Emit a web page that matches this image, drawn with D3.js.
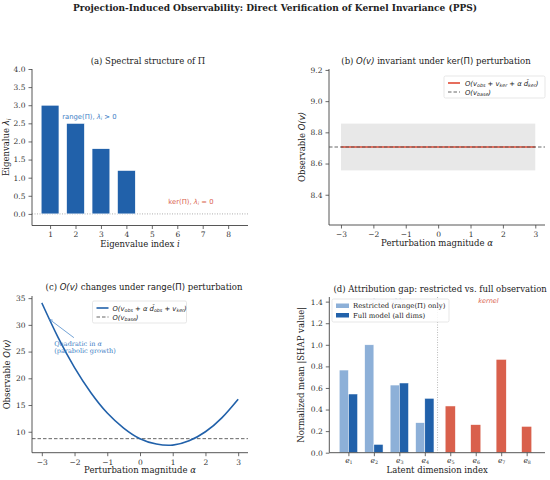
<!DOCTYPE html>
<html>
<head>
<meta charset="utf-8">
<script src="https://cdn.jsdelivr.net/npm/d3@7"></script>
<style>
  body { margin: 0; background: #fff; }
  svg { display: block; }
  text { font-family: 'DejaVu Serif', serif; }
  .tick text { font-size: 7.5px; }
  .math { font-family: 'DejaVu Sans', sans-serif; font-style: italic; }
</style>
</head>
<body>
<svg id="chart"></svg>
<script>
// panel (a) eigenvalues
const eigIndex = [1, 2, 3, 4, 5, 6, 7, 8];
const eigValues = [3.0, 2.5, 1.8, 1.2, 0, 0, 0, 0];

// panel (b) kernel perturbation
const alphaKer = [-3, -2, -1, 0, 1, 2, 3];
const obsKer = [8.706, 8.706, 8.706, 8.706, 8.706, 8.706, 8.706];
const obsBase = 8.706;
const bandLow = 8.556;
const bandHigh = 8.856;

// panel (c) range perturbation
const alphaRange = [-3, -2.5, -2, -1.5, -1, -0.5, 0, 0.5, 1, 1.5, 2, 2.5, 3];
const obsRange = [34.1, 27.6, 22.0, 17.3, 13.5, 10.7, 8.7, 7.7, 7.5, 8.3, 10.0, 12.6, 16.1];

// panel (d) attribution
const dimLabels = ['1', '2', '3', '4', '5', '6', '7', '8'];
const restrictedShap = [0.766, 1.0, 0.627, 0.278];
const fullShap = [0.544, 0.077, 0.646, 0.504];
const kernelShap = [0.433, 0.26, 0.865, 0.244];

const W = 550, H = 480;
const blue = '#2161aa', lightBlue = '#8db0d8', red = '#d9604c', noteBlue = '#3a7cc4';
const axisColor = '#444', textColor = '#222';

var svg = d3.select('#chart').attr('width', W).attr('height', H);

svg.append('text')
  .attr('x', W / 2).attr('y', 11)
  .attr('text-anchor', 'middle')
  .style('font-size', '9px').style('font-weight', 'bold').style('fill', textColor)
  .text('Projection-Induced Observability: Direct Verification of Kernel Invariance (PPS)');

// draw bottom/left spines + ticks
function drawAxes(g, x, y, box, xTicks, yTicks, xFmt, yFmt) {
  var xa = d3.axisBottom(x).tickValues(xTicks).tickSizeOuter(0).tickSize(3.5).tickPadding(3);
  if (xFmt) xa.tickFormat(xFmt);
  var ya = d3.axisLeft(y).tickValues(yTicks).tickSizeOuter(0).tickSize(3.5).tickPadding(3);
  if (yFmt) ya.tickFormat(yFmt);
  var gx = g.append('g').attr('transform', 'translate(0,' + box.bottom + ')').call(xa);
  var gy = g.append('g').attr('transform', 'translate(' + box.left + ',0)').call(ya);
  [gx, gy].forEach(function (a) {
    a.select('.domain').remove();
    a.selectAll('.tick line').attr('stroke', axisColor).attr('stroke-width', 0.8);
    a.selectAll('.tick text').attr('font-family', 'DejaVu Serif').style('fill', '#333');
  });
  g.append('line').attr('x1', box.left).attr('x2', box.right)
    .attr('y1', box.bottom).attr('y2', box.bottom)
    .attr('stroke', axisColor).attr('stroke-width', 0.9);
  g.append('line').attr('x1', box.left).attr('x2', box.left)
    .attr('y1', box.top).attr('y2', box.bottom)
    .attr('stroke', axisColor).attr('stroke-width', 0.9);
  return { gx: gx, gy: gy };
}

function minusFmt(d) { return d < 0 ? '\u2212' + Math.abs(d) : String(d); }

function label(g, x, y, size) {
  return g.append('text').attr('x', x).attr('y', y)
    .attr('text-anchor', 'middle').style('font-size', size || '8.5px').style('fill', textColor);
}

function sub(t, s) {
  t.append('tspan').attr('baseline-shift', '-25%').style('font-size', '70%').text(s);
}

// ---------------- (a) ----------------
(function () {
  var box = { left: 32, right: 248, top: 69, bottom: 225.5 };
  var x = d3.scaleLinear().domain([0.29, 8.78]).range([box.left, box.right]);
  var y = d3.scaleLinear().domain([-0.32, 4.0]).range([box.bottom, box.top]);
  var g = svg.append('g');

  g.append('line').attr('x1', box.left).attr('x2', box.right)
    .attr('y1', y(0)).attr('y2', y(0))
    .attr('stroke', '#999').attr('stroke-width', 0.8).attr('stroke-dasharray', '1,1.5');

  g.selectAll('rect.bar').data(eigIndex).enter().append('rect')
    .attr('class', 'bar')
    .attr('x', function (d) { return x(d - 0.35); })
    .attr('width', function (d) { return x(d + 0.35) - x(d - 0.35); })
    .attr('y', function (d, i) { return y(eigValues[i]); })
    .attr('height', function (d, i) { return y(0) - y(eigValues[i]); })
    .attr('fill', blue).attr('stroke', '#fff').attr('stroke-width', 0.6);

  drawAxes(g, x, y, box, eigIndex, d3.range(0, 4.01, 0.5), null, d3.format('.1f'));

  var t1 = g.append('text').attr('x', x(1.48)).attr('y', y(2.62)).style('fill', noteBlue)
    .style('font-size', '6.8px').style('font-family', 'DejaVu Sans');
  t1.append('tspan').text('range(\u03a0),  ');
  t1.append('tspan').style('font-style', 'italic').text('\u03bb');
  t1.append('tspan').attr('baseline-shift', '-25%').style('font-size', '70%').style('font-style', 'italic').text('i');
  t1.append('tspan').text(' > 0');

  var t2 = g.append('text').attr('x', x(5.65)).attr('y', y(0.27)).style('fill', red)
    .style('font-size', '6.8px').style('font-family', 'DejaVu Sans');
  t2.append('tspan').text('ker(\u03a0),  ');
  t2.append('tspan').style('font-style', 'italic').text('\u03bb');
  t2.append('tspan').attr('baseline-shift', '-25%').style('font-size', '70%').style('font-style', 'italic').text('i');
  t2.append('tspan').text(' = 0');

  label(g, (box.left + box.right) / 2 + 8, 64).text('(a) Spectral structure of \u03a0');

  var xl = label(g, (box.left + box.right) / 2, 247);
  xl.append('tspan').text('Eigenvalue index ');
  xl.append('tspan').style('font-style', 'italic').text('i');

  var yl = label(g, 0, 0).attr('transform', 'translate(9,' + ((box.top + box.bottom) / 2) + ') rotate(-90)');
  yl.append('tspan').text('Eigenvalue ');
  yl.append('tspan').attr('class', 'math').text('\u03bb');
  yl.append('tspan').attr('class', 'math').attr('baseline-shift', '-25%').style('font-size', '70%').text('i');
})();

// ---------------- (b) ----------------
(function () {
  var box = { left: 329, right: 545, top: 69, bottom: 225 };
  var x = d3.scaleLinear().domain([-3.37, 3.3]).range([box.left, box.right]);
  var y = d3.scaleLinear().domain([8.206, 9.206]).range([box.bottom, box.top]);
  var g = svg.append('g');

  g.append('rect').attr('x', x(-3)).attr('width', x(3) - x(-3))
    .attr('y', y(bandHigh)).attr('height', y(bandLow) - y(bandHigh))
    .attr('fill', '#e8e8e8');

  var line = d3.line().x(function (d) { return x(d); }).y(function (d, i) { return y(obsKer[i]); });
  g.append('path').datum(alphaKer).attr('d', line)
    .attr('fill', 'none').attr('stroke', '#e04a35').attr('stroke-width', 1.6);

  g.append('line').attr('x1', box.left).attr('x2', box.right)
    .attr('y1', y(obsBase)).attr('y2', y(obsBase))
    .attr('stroke', '#555').attr('stroke-width', 0.9).attr('stroke-dasharray', '3.5,2');

  drawAxes(g, x, y, box, d3.range(-3, 3.01, 1), [8.4, 8.6, 8.8, 9.0, 9.2], minusFmt, d3.format('.1f'));

  // legend
  var lg = g.append('g').attr('transform', 'translate(444,76)');
  lg.append('rect').attr('width', 101).attr('height', 22).attr('rx', 1.5)
    .attr('fill', '#fff').attr('fill-opacity', 0.85).attr('stroke', '#ddd').attr('stroke-width', 0.7);
  lg.append('line').attr('x1', 4).attr('x2', 16).attr('y1', 7).attr('y2', 7)
    .attr('stroke', '#e04a35').attr('stroke-width', 1.6);
  lg.append('line').attr('x1', 4).attr('x2', 16).attr('y1', 16).attr('y2', 16)
    .attr('stroke', '#555').attr('stroke-width', 0.9).attr('stroke-dasharray', '3.5,2');
  var l1 = lg.append('text').attr('x', 21).attr('y', 9.5).style('font-size', '6.8px').style('fill', textColor).attr('class', 'math');
  l1.append('tspan').text('O(v');
  sub(l1, 'obs');
  l1.append('tspan').text(' + v');
  sub(l1, 'ker');
  l1.append('tspan').text(' + \u03b1 d\u0302');
  sub(l1, 'ker');
  l1.append('tspan').text(')');
  var l2 = lg.append('text').attr('x', 21).attr('y', 18.5).style('font-size', '6.8px').style('fill', textColor).attr('class', 'math');
  l2.append('tspan').text('O(v');
  sub(l2, 'base');
  l2.append('tspan').text(')');

  var tt = label(g, (box.left + box.right) / 2 - 1, 64);
  tt.append('tspan').text('(b) ');
  tt.append('tspan').attr('class', 'math').text('O(v)');
  tt.append('tspan').text(' invariant under ');
  tt.append('tspan').style('font-family', 'DejaVu Sans').text('ker(\u03a0)');
  tt.append('tspan').text(' perturbation');

  var xl = label(g, (box.left + box.right) / 2, 246);
  xl.append('tspan').text('Perturbation magnitude ');
  xl.append('tspan').style('font-style', 'italic').text('\u03b1');

  var yl = label(g, 0, 0).attr('transform', 'translate(305,' + ((box.top + box.bottom) / 2) + ') rotate(-90)');
  yl.append('tspan').text('Observable ');
  yl.append('tspan').attr('class', 'math').text('O(v)');
})();

// ---------------- (c) ----------------
(function () {
  var box = { left: 32, right: 248, top: 296, bottom: 452.7 };
  var x = d3.scaleLinear().domain([-3.3, 3.3]).range([box.left, box.right]);
  var y = d3.scaleLinear().domain([6.08, 35.4]).range([box.bottom, box.top]);
  var g = svg.append('g');

  g.append('line').attr('x1', box.left).attr('x2', box.right)
    .attr('y1', y(obsBase)).attr('y2', y(obsBase))
    .attr('stroke', '#555').attr('stroke-width', 0.9).attr('stroke-dasharray', '3.5,2');

  var line = d3.line().curve(d3.curveNatural)
    .x(function (d) { return x(d); }).y(function (d, i) { return y(obsRange[i]); });
  g.append('path').datum(alphaRange).attr('d', line)
    .attr('fill', 'none').attr('stroke', blue).attr('stroke-width', 1.6);

  drawAxes(g, x, y, box, d3.range(-3, 3.01, 1), [10, 15, 20, 25, 30, 35], minusFmt, null);

  // annotation
  var defs = svg.append('defs');
  defs.append('marker').attr('id', 'arrowC').attr('viewBox', '0 -5 10 10')
    .attr('refX', 10).attr('refY', 0).attr('markerWidth', 6).attr('markerHeight', 6)
    .attr('orient', 'auto')
    .append('path').attr('d', 'M0,-3.5L10,0L0,3.5').attr('fill', 'none')
    .attr('stroke', noteBlue).attr('stroke-width', 1.2);
  g.append('line').attr('x1', x(-2.02)).attr('y1', y(27.6))
    .attr('x2', x(-2.78)).attr('y2', y(31.1))
    .attr('stroke', noteBlue).attr('stroke-width', 0.7).attr('marker-end', 'url(#arrowC)');
  var an = g.append('text').attr('x', x(-2.62)).attr('y', y(26.1))
    .style('fill', noteBlue).style('font-size', '6.5px');
  an.append('tspan').text('Quadratic in ');
  an.append('tspan').style('font-style', 'italic').text('\u03b1');
  g.append('text').attr('x', x(-2.62)).attr('y', y(24.7))
    .style('fill', noteBlue).style('font-size', '6.5px').text('(parabolic growth)');

  // legend
  var lg = g.append('g').attr('transform', 'translate(92.5,301)');
  lg.append('rect').attr('width', 94).attr('height', 22).attr('rx', 1.5)
    .attr('fill', '#fff').attr('fill-opacity', 0.85).attr('stroke', '#ddd').attr('stroke-width', 0.7);
  lg.append('line').attr('x1', 4).attr('x2', 16).attr('y1', 7).attr('y2', 7)
    .attr('stroke', blue).attr('stroke-width', 1.6);
  lg.append('line').attr('x1', 4).attr('x2', 16).attr('y1', 16).attr('y2', 16)
    .attr('stroke', '#555').attr('stroke-width', 0.9).attr('stroke-dasharray', '3.5,2');
  var l1 = lg.append('text').attr('x', 20).attr('y', 9.5).style('font-size', '6.8px').style('fill', textColor).attr('class', 'math');
  l1.append('tspan').text('O(v');
  sub(l1, 'obs');
  l1.append('tspan').text(' + \u03b1 d\u0302');
  sub(l1, 'obs');
  l1.append('tspan').text(' + v');
  sub(l1, 'ker');
  l1.append('tspan').text(')');
  var l2 = lg.append('text').attr('x', 20).attr('y', 18.5).style('font-size', '6.8px').style('fill', textColor).attr('class', 'math');
  l2.append('tspan').text('O(v');
  sub(l2, 'base');
  l2.append('tspan').text(')');

  var tt = label(g, (box.left + box.right) / 2 + 4, 290);
  tt.append('tspan').text('(c) ');
  tt.append('tspan').attr('class', 'math').text('O(v)');
  tt.append('tspan').text(' changes under ');
  tt.append('tspan').style('font-family', 'DejaVu Sans').text('range(\u03a0)');
  tt.append('tspan').text(' perturbation');

  var xl = label(g, (box.left + box.right) / 2, 473);
  xl.append('tspan').text('Perturbation magnitude ');
  xl.append('tspan').style('font-style', 'italic').text('\u03b1');

  var yl = label(g, 0, 0).attr('transform', 'translate(10,' + ((box.top + box.bottom) / 2) + ') rotate(-90)');
  yl.append('tspan').text('Observable ');
  yl.append('tspan').attr('class', 'math').text('O(v)');
})();

// ---------------- (d) ----------------
(function () {
  var box = { left: 329.3, right: 545, top: 297, bottom: 452.7 };
  var x = d3.scaleLinear().domain([-0.75, 7.72]).range([box.left, box.right]);
  var y = d3.scaleLinear().domain([0, 1.443]).range([box.bottom, box.top]);
  var g = svg.append('g');
  var bw = 0.36;
  var idx = d3.range(dimLabels.length);

  g.append('line').attr('x1', x(3.5)).attr('x2', x(3.5))
    .attr('y1', box.top).attr('y2', box.bottom)
    .attr('stroke', '#aaa').attr('stroke-width', 0.8).attr('stroke-dasharray', '1,1.5');

  g.append('text').attr('x', x(1.5)).attr('y', y(1.385)).attr('text-anchor', 'middle')
    .style('fill', '#a9c4e4').style('font-size', '6.5px').style('font-style', 'italic')
    .style('font-family', 'DejaVu Sans').text('observable');
  g.append('text').attr('x', x(5.5)).attr('y', y(1.385)).attr('text-anchor', 'middle')
    .style('fill', red).style('font-size', '6.5px').style('font-style', 'italic')
    .style('font-family', 'DejaVu Sans').text('kernel');

  g.selectAll('rect.restr').data(restrictedShap).enter().append('rect')
    .attr('class', 'restr')
    .attr('x', function (d, i) { return x(i - bw); })
    .attr('width', x(bw) - x(0))
    .attr('y', function (d) { return y(d); })
    .attr('height', function (d) { return y(0) - y(d); })
    .attr('fill', lightBlue).attr('stroke', '#fff').attr('stroke-width', 0.5);

  g.selectAll('rect.full').data(fullShap).enter().append('rect')
    .attr('class', 'full')
    .attr('x', function (d, i) { return x(i); })
    .attr('width', x(bw) - x(0))
    .attr('y', function (d) { return y(d); })
    .attr('height', function (d) { return y(0) - y(d); })
    .attr('fill', blue).attr('stroke', '#fff').attr('stroke-width', 0.5);

  g.selectAll('rect.kern').data(kernelShap).enter().append('rect')
    .attr('class', 'kern')
    .attr('x', function (d, i) { return x(i + 4 - bw / 2 - 0.02); })
    .attr('width', x(bw + 0.04) - x(0))
    .attr('y', function (d) { return y(d); })
    .attr('height', function (d) { return y(0) - y(d); })
    .attr('fill', red).attr('stroke', '#fff').attr('stroke-width', 0.5);

  var axes = drawAxes(g, x, y, box, idx, d3.range(0, 1.41, 0.2), function () { return ''; }, d3.format('.1f'));
  axes.gx.selectAll('.tick').each(function (d) {
    var t = d3.select(this).append('text').attr('y', 10.5).attr('text-anchor', 'middle')
      .style('fill', '#333').style('font-size', '7.5px');
    t.append('tspan').style('font-style', 'italic').text('e');
    t.append('tspan').attr('baseline-shift', '-25%').style('font-size', '65%').text(dimLabels[d]);
  });

  // legend
  var lg = g.append('g').attr('transform', 'translate(332,299)');
  lg.append('rect').attr('width', 117).attr('height', 23).attr('rx', 1.5)
    .attr('fill', '#fff').attr('fill-opacity', 0.85).attr('stroke', '#ddd').attr('stroke-width', 0.7);
  lg.append('rect').attr('x', 4).attr('y', 4.5).attr('width', 13).attr('height', 4.5).attr('fill', lightBlue);
  lg.append('rect').attr('x', 4).attr('y', 14).attr('width', 13).attr('height', 4.5).attr('fill', blue);
  lg.append('text').attr('x', 21).attr('y', 9.3).style('font-size', '6.9px').style('fill', textColor).text('Restricted (range(\u03a0) only)');
  lg.append('text').attr('x', 21).attr('y', 18.8).style('font-size', '6.9px').style('fill', textColor).text('Full model (all dims)');

  label(g, (box.left + box.right) / 2 + 3, 292).text('(d) Attribution gap: restricted vs. full observation');

  label(g, (box.left + box.right) / 2, 473).text('Latent dimension index');

  label(g, 0, 0).attr('transform', 'translate(304,' + ((box.top + box.bottom) / 2) + ') rotate(-90)')
    .text('Normalized mean |SHAP value|');
})();
</script>
</body>
</html>
